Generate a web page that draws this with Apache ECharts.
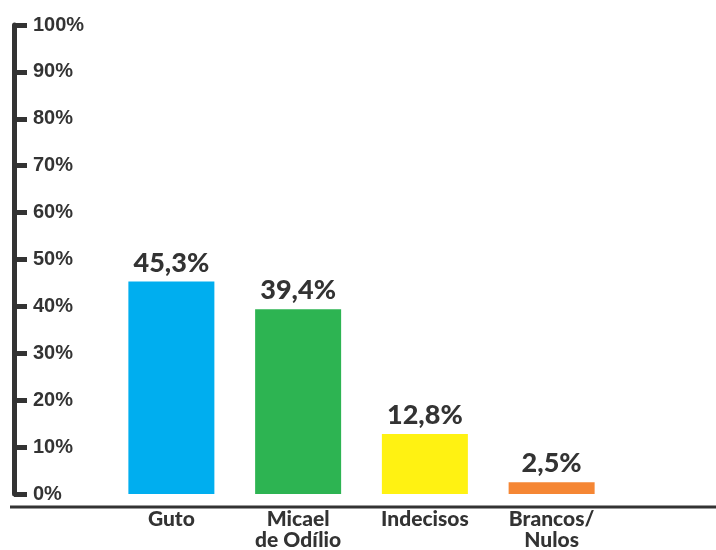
<!DOCTYPE html>
<html>
<head>
<meta charset="utf-8">
<script src="https://cdn.jsdelivr.net/npm/echarts@6/dist/echarts.min.js"></script>
<style>html,body{margin:0;padding:0;background:#fff}#c{width:716px;height:550px}</style>
</head>
<body>
<div id="c"></div>
<script>
var categories = ['Guto', 'Micael\nde Odílio', 'Indecisos', 'Brancos/\nNulos'];
var values = [45.3, 39.4, 12.8, 2.5];
var valueLabels = ['45,3%', '39,4%', '12,8%', '2,5%'];
var colors = ['#00AEEF', '#2DB452', '#FFF212', '#F58634'];
var yTicks = [0, 10, 20, 30, 40, 50, 60, 70, 80, 90, 100];

var chart = echarts.init(document.getElementById('c'), null, {renderer: 'canvas'});
chart.setOption({
  backgroundColor: '#ffffff',
  animation: false,
  grid: {left: 108, right: 101, top: 25, bottom: 56, containLabel: false, outerBoundsMode: 'none'},
  xAxis: {
    type: 'category',
    data: categories,
    axisLine: {show: false},
    axisTick: {show: false},
    axisLabel: {
      margin: 15,
      color: '#333333',
      fontFamily: 'Lato',
      fontWeight: 900,
      fontSize: 21,
      lineHeight: 21
    }
  },
  yAxis: {
    type: 'value',
    min: 0, max: 100, interval: 10,
    offset: 94,
    axisLine: {show: true, lineStyle: {color: '#333333', width: 5}},
    axisTick: {show: true, inside: true, length: 13, lineStyle: {color: '#333333', width: 5}},
    splitLine: {show: false},
    axisLabel: {
      inside: true,
      margin: 19,
      color: '#333333',
      fontFamily: 'Liberation Sans',
      fontWeight: 'bold',
      fontSize: 20,
      formatter: function (v) { return yTicks.indexOf(v) >= 0 ? v + '%' : ''; }
    }
  },
  series: [{
    type: 'bar',
    barWidth: 86,
    data: values.map(function (v, i) { return {value: v, itemStyle: {color: colors[i]}}; }),
    label: {
      show: true,
      position: 'top',
      distance: 5,
      color: '#333333',
      fontFamily: 'Lato',
      fontWeight: 900,
      fontSize: 27,
      formatter: function (p) { return valueLabels[p.dataIndex]; }
    }
  }],
  graphic: [{
    type: 'line',
    shape: {x1: 10, y1: 507, x2: 716, y2: 507},
    style: {stroke: '#333333', lineWidth: 3}
  }]
});
</script>
</body>
</html>
